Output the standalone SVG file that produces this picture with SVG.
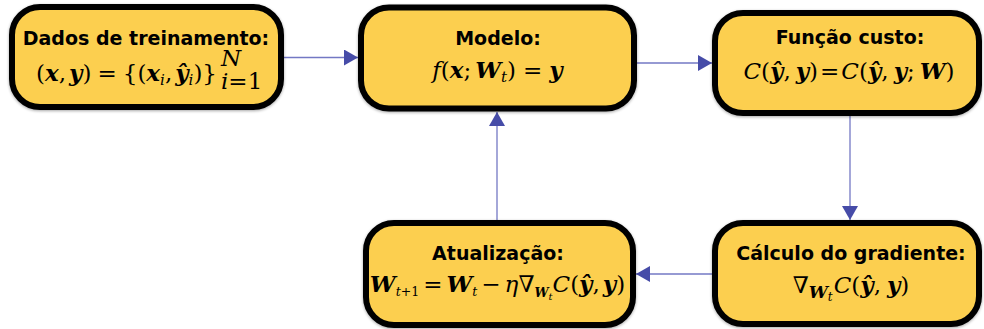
<svg xmlns="http://www.w3.org/2000/svg" width="984" height="329" viewBox="0 0 984 329">
<defs>
<style>
.box{fill:#fccf4f;stroke:#000;stroke-width:6;filter:url(#sh)}
.title{font-family:"DejaVu Sans",sans-serif;font-weight:bold;font-size:19px;text-anchor:middle;fill:#000}
.math{font-family:"DejaVu Serif",serif;font-size:23px;fill:#000}
.b{font-weight:bold;font-style:italic}
.i{font-style:italic}
.conn{stroke:#7378c4;stroke-width:1.3;fill:none;marker-end:url(#ah)}
</style>
<marker id="ah" viewBox="0 0 14 16" refX="14" refY="8" markerWidth="14" markerHeight="16" markerUnits="userSpaceOnUse" orient="auto">
<path d="M0,0 L14,8 L0,16 Z" fill="#464ca8"/>
</marker>
<filter id="sh" x="-10%" y="-10%" width="120%" height="130%">
<feGaussianBlur in="SourceAlpha" stdDeviation="1.5"/>
<feOffset dx="0" dy="1" result="b"/>
<feComponentTransfer><feFuncA type="linear" slope="0.35"/></feComponentTransfer>
<feMerge><feMergeNode/><feMergeNode in="SourceGraphic"/></feMerge>
</filter>
</defs>
<g id="connectors">
<path class="conn" d="M284,57.5 H358"/>
<path class="conn" d="M636,63 H712"/>
<path class="conn" d="M850,116 V220"/>
<path class="conn" d="M497,220 V112"/>
<path class="conn" d="M712,274 H636"/>
</g>
<g id="dados">
<rect class="box" x="12" y="7" width="269" height="100" rx="28"/>
<text class="title" x="146" y="45">Dados de treinamento:</text>
<text class="math" x="217" y="81" text-anchor="end">(<tspan class="b">x</tspan>,<tspan class="b" dx="3">y</tspan>)<tspan dx="6">=</tspan><tspan dx="6">{(</tspan><tspan class="b">x</tspan><tspan class="i" font-size="15" dy="4">i</tspan><tspan dy="-4">,</tspan><tspan class="b" dx="3">ŷ</tspan><tspan class="i" font-size="15" dy="4">i</tspan><tspan dy="-4">)}</tspan></text>
<text class="math i" x="221" y="66" font-size="12.5">N</text>
<text class="math" x="221" y="89" font-size="12.5"><tspan class="i">i</tspan>=1</text>
</g>
<g id="modelo">
<rect class="box" x="361" y="7.5" width="273" height="101" rx="28"/>
<text class="title" x="498" y="45">Modelo:</text>
<text class="math" x="497.5" y="78" text-anchor="middle" font-size="24"><tspan class="i">f</tspan>(<tspan class="b">x</tspan>;<tspan class="b" dx="4">W</tspan><tspan class="i" font-size="15" dy="4">t</tspan><tspan dy="-4">)</tspan><tspan dx="7">=</tspan><tspan class="b" dx="7">y</tspan></text>
</g>
<g id="funcao">
<rect class="box" x="715" y="13" width="264" height="100" rx="28"/>
<text class="title" x="850" y="44">Função custo:</text>
<text class="math" x="849" y="79" text-anchor="middle" font-size="24"><tspan class="i">C</tspan>(<tspan class="b">ŷ</tspan>,<tspan class="b" dx="5">y</tspan>)<tspan dx="2">=</tspan><tspan class="i" dx="2">C</tspan>(<tspan class="b">ŷ</tspan>,<tspan class="b" dx="5">y</tspan>;<tspan class="b" dx="5">W</tspan>)</text>
</g>
<g id="calculo">
<rect class="box" x="715" y="223" width="264" height="101" rx="28"/>
<text class="title" x="851" y="260">Cálculo do gradiente:</text>
<text class="math" x="851" y="293" text-anchor="middle" font-size="27">∇<tspan class="b" font-size="17" dy="5">W</tspan><tspan class="i" font-size="12" dy="3">t</tspan><tspan class="i" dy="-8" dx="1">C</tspan>(<tspan class="b">ŷ</tspan>,<tspan class="b" dx="6">y</tspan>)</text>
</g>
<g id="atualizacao">
<rect class="box" x="366" y="223" width="267" height="102" rx="28"/>
<text class="title" x="498" y="260">Atualização:</text>
<text class="math" x="497.5" y="292" text-anchor="middle" font-size="18.5"><tspan class="b">W</tspan><tspan font-size="12.5" dy="4"><tspan class="i">t</tspan>+1</tspan><tspan dy="-4" dx="4">=</tspan><tspan class="b" dx="4">W</tspan><tspan class="i" font-size="12.5" dy="4">t</tspan><tspan dy="-4" dx="4">−</tspan><tspan class="i" dx="4">η</tspan>∇<tspan class="b" font-size="12.5" dy="5">W</tspan><tspan class="i" font-size="10" dy="3">t</tspan><tspan class="i" dy="-8">C</tspan>(<tspan class="b">ŷ</tspan>,<tspan class="b" dx="3">y</tspan>)</text>
</g>
</svg>
